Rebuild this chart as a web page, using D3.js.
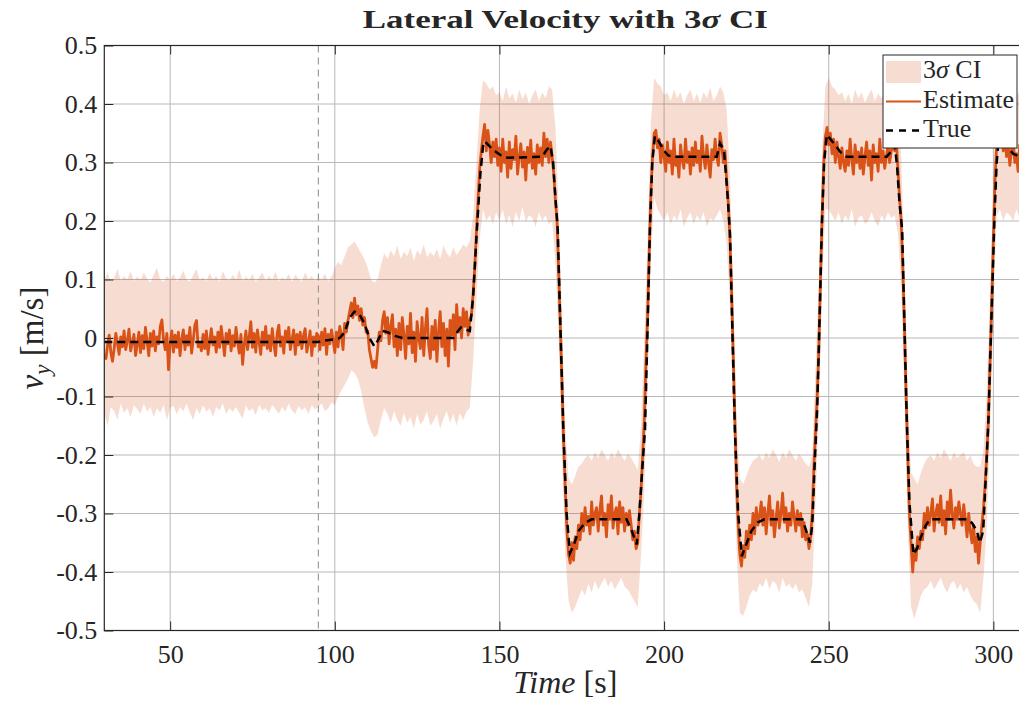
<!DOCTYPE html>
<html>
<head>
<meta charset="utf-8">
<script src="https://cdn.jsdelivr.net/npm/d3@7"></script>
<style>
  body { margin: 0; background: #fff; }
  text { font-family: "Liberation Serif", serif; fill: #262626; }
</style>
</head>
<body>
<script>
// ---- data ----
const xTicks = [50, 100, 150, 200, 250, 300];
const yTicks = [-0.5, -0.4, -0.3, -0.2, -0.1, 0, 0.1, 0.2, 0.3, 0.4, 0.5];
const eventTime = 95; // dashed vertical marker

// reference (true) lateral velocity, key points [s]
const trueTime = [30, 95, 96, 100, 101.5, 103, 104.5, 106, 107.5, 109, 110.5, 112, 113, 114.5, 116, 118, 120.5,
  136, 137.4, 138.3, 139.5, 141, 142, 143.1, 144.2, 145.1, 145.6, 147.5, 149, 150.5, 152.6,
  163, 164.4, 165.5, 166.3, 167, 167.7, 168.5, 169.4, 170.4, 171.4, 172.5, 174, 176, 178,
  188.6, 190.2, 191.7, 192.5, 193.3, 194.2, 195, 195.7, 196.4, 197.2, 198.5, 200, 201.3, 203,
  216, 217, 218.2, 219.2, 220, 220.8, 221.5, 222.5, 223.6, 224.8, 226.5, 228.5, 230.5,
  242, 243.2, 244.3, 245, 245.7, 246.5, 247.3, 247.9, 248.6, 249.4, 250.5, 252, 253.5, 255.4,
  267.6, 268.8, 270.1, 270.8, 271.5, 272.3, 273, 273.7, 274.5, 275.7, 276.8, 278, 279.5, 280.8,
  292, 293.5, 295, 295.9, 296.9, 297.6, 298.5, 299.5, 300.3, 301, 301.8, 303, 304.5, 306, 308, 310];
const trueVel = [-0.007, -0.007, -0.005, -0.002, 0, 0.01, 0.035, 0.045, 0.04, 0.025, 0, -0.014, -0.005, 0.012, 0.01, 0.004, 0,
  0, 0.012, 0.018, 0.015, 0.012, 0.07, 0.18, 0.28, 0.333, 0.336, 0.325, 0.318, 0.312, 0.308,
  0.31, 0.322, 0.328, 0.3, 0.24, 0.185, 0.02, -0.157, -0.3, -0.368, -0.355, -0.33, -0.316, -0.31,
  -0.31, -0.33, -0.353, -0.3, -0.23, -0.157, 0.02, 0.186, 0.3, 0.345, 0.335, 0.32, 0.312, 0.31,
  0.31, 0.333, 0.32, 0.25, 0.18, 0, -0.157, -0.3, -0.373, -0.355, -0.33, -0.315, -0.31,
  -0.31, -0.33, -0.35, -0.32, -0.22, -0.12, 0.05, 0.19, 0.3, 0.347, 0.34, 0.33, 0.318, 0.31,
  0.31, 0.318, 0.33, 0.29, 0.23, 0.185, 0.02, -0.14, -0.28, -0.37, -0.36, -0.34, -0.32, -0.31,
  -0.31, -0.316, -0.33, -0.35, -0.33, -0.25, -0.14, 0.05, 0.2, 0.3, 0.35, 0.34, 0.325, 0.315, 0.31, 0.31];

// estimate, one row per 10 s, sampled every 0.5 s
const estStart = 30, estStep = 0.5, rowSpan = 10;
const estimateRows = [
  [-0.03,-0.035,-0.012,0.005,-0.025,-0.04,-0.018,0.008,-0.01,-0.028,0.002,-0.015,0.012,-0.02,-0.005,0.015,-0.022,-0.008,0.006,-0.03],
  [-0.012,0.01,-0.025,0.004,-0.018,0.018,-0.006,-0.03,0.008,-0.014,0.012,-0.022,0.002,-0.01,0.02,0.031,-0.004,-0.02,0.008,-0.054],
  [-0.01,0.012,-0.024,0.005,-0.016,0.01,-0.03,-0.002,0.014,-0.02,0.004,-0.012,0.018,-0.026,-0.004,0.022,0.03,-0.015,-0.008,-0.022],
  [0.006,-0.018,0.012,-0.028,-0.006,0.016,-0.012,0.002,-0.024,0.01,-0.016,0.02,-0.004,-0.03,0.008,-0.01,0.014,-0.022,0.004,-0.014],
  [0.018,-0.008,-0.026,0.006,-0.045,-0.012,0.012,-0.02,0.002,0.028,-0.016,0.008,-0.024,0.014,-0.006,-0.028,0.01,-0.012,0.02,-0.018],
  [0.004,-0.022,0.016,-0.01,-0.03,0.008,0.022,-0.014,0.002,-0.026,0.012,-0.006,0.018,-0.02,-0.004,0.014,-0.028,0.006,-0.012,0.01],
  [-0.018,0.004,0.016,-0.024,-0.008,0.012,-0.03,0.002,-0.014,0.008,0.004,-0.02,0.01,-0.012,0.016,-0.028,0.006,-0.01,0.014,-0.004],
  [-0.025,0.01,-0.015,0.02,0.005,-0.02,0.025,0.01,0.03,0.045,0.06,0.035,0.068,0.04,0.055,0.03,0.05,0.022,0.035,0.01],
  [0.012,-0.02,-0.035,-0.05,-0.04,-0.051,-0.02,0.01,-0.005,0.03,0.045,0.008,0.035,-0.01,0.02,0.04,-0.015,0.015,-0.03,0.025],
  [-0.02,0.035,0.005,-0.035,0.02,-0.01,0.042,-0.025,0.01,-0.04,0.028,0.0,-0.018,0.035,-0.03,0.015,0.05,-0.012,-0.035,0.02],
  [-0.02,0.03,-0.04,0.01,0.045,-0.015,0.025,-0.03,0.015,-0.048,0.03,0.005,0.04,-0.02,0.057,0.01,0.035,0.0,0.05,0.02],
  [0.045,0.005,0.03,0.04,0.075,0.12,0.18,0.235,0.29,0.32,0.345,0.365,0.32,0.355,0.33,0.3,0.335,0.31,0.34,0.295],
  [0.325,0.285,0.34,0.3,0.318,0.275,0.335,0.29,0.322,0.305,0.345,0.28,0.31,0.332,0.292,0.318,0.27,0.326,0.3,0.338],
  [0.29,0.315,0.28,0.33,0.3,0.325,0.295,0.35,0.31,0.34,0.3,0.335,0.31,0.28,0.235,0.2,0.11,0.02,-0.08,-0.18],
  [-0.26,-0.33,-0.37,-0.385,-0.35,-0.38,-0.34,-0.36,-0.32,-0.345,-0.3,-0.33,-0.29,-0.32,-0.305,-0.335,-0.28,-0.32,-0.3,-0.29],
  [-0.33,-0.295,-0.27,-0.32,-0.3,-0.34,-0.285,-0.31,-0.27,-0.325,-0.3,-0.29,-0.335,-0.28,-0.315,-0.29,-0.33,-0.3,-0.32,-0.295],
  [-0.32,-0.345,-0.33,-0.36,-0.35,-0.3,-0.26,-0.2,-0.14,-0.04,0.04,0.15,0.25,0.31,0.35,0.355,0.325,0.34,0.3,0.33],
  [0.31,0.285,0.335,0.3,0.32,0.28,0.34,0.295,0.31,0.275,0.33,0.305,0.29,0.34,0.3,0.318,0.28,0.325,0.295,0.335],
  [0.3,0.32,0.285,0.345,0.31,0.29,0.33,0.3,0.275,0.322,0.305,0.34,0.31,0.295,0.35,0.33,0.3,0.32,0.27,0.23],
  [0.17,0.08,-0.03,-0.14,-0.25,-0.32,-0.37,-0.39,-0.355,-0.375,-0.33,-0.36,-0.32,-0.345,-0.3,-0.335,-0.29,-0.32,-0.305,-0.28],
  [-0.32,-0.29,-0.335,-0.3,-0.27,-0.32,-0.295,-0.34,-0.31,-0.28,-0.325,-0.3,-0.265,-0.315,-0.29,-0.33,-0.3,-0.32,-0.28,-0.305],
  [-0.33,-0.295,-0.32,-0.3,-0.34,-0.315,-0.345,-0.335,-0.36,-0.34,-0.3,-0.22,-0.16,-0.1,-0.02,0.1,0.21,0.3,0.345,0.36],
  [0.33,0.35,0.315,0.34,0.3,0.335,0.31,0.29,0.325,0.3,0.285,0.32,0.295,0.34,0.305,0.28,0.33,0.3,0.318,0.29],
  [0.325,0.28,0.31,0.335,0.295,0.32,0.27,0.33,0.3,0.315,0.285,0.34,0.3,0.32,0.29,0.31,0.33,0.3,0.32,0.335],
  [0.32,0.34,0.29,0.24,0.2,0.12,0.02,-0.1,-0.2,-0.3,-0.35,-0.4,-0.36,-0.38,-0.34,-0.36,-0.33,-0.345,-0.3,-0.325],
  [-0.29,-0.32,-0.3,-0.275,-0.33,-0.3,-0.285,-0.315,-0.27,-0.32,-0.295,-0.335,-0.28,-0.31,-0.26,-0.3,-0.325,-0.29,-0.31,-0.28],
  [-0.3,-0.32,-0.285,-0.31,-0.34,-0.3,-0.33,-0.35,-0.32,-0.365,-0.34,-0.385,-0.35,-0.32,-0.29,-0.25,-0.2,-0.14,-0.04,0.06],
  [0.17,0.27,0.33,0.36,0.34,0.355,0.32,0.345,0.31,0.33,0.295,0.32,0.34,0.3,0.315,0.285,0.33,0.3,0.32,0.29],
  [0.31]
];

// 3-sigma band edges, one row per 10 s, one value per second
const ciStart = 30, ciStep = 1;
const ciUpperRows = [
  [0.1,0.112,0.096,0.104,0.118,0.098,0.106,0.1,0.114,0.097],
  [0.105,0.099,0.112,0.101,0.095,0.108,0.12,0.1,0.096,0.106],
  [0.099,0.11,0.097,0.104,0.115,0.1,0.096,0.108,0.118,0.099],
  [0.104,0.097,0.111,0.1,0.106,0.096,0.114,0.102,0.098,0.108],
  [0.1,0.117,0.097,0.105,0.099,0.11,0.096,0.104,0.112,0.098],
  [0.106,0.1,0.113,0.097,0.104,0.099,0.11,0.096,0.108,0.101],
  [0.097,0.112,0.1,0.106,0.098,0.104,0.1,0.11,0.097,0.105],
  [0.12,0.13,0.125,0.14,0.155,0.16,0.165,0.155,0.145,0.135],
  [0.12,0.1,0.095,0.1,0.125,0.145,0.135,0.15,0.14,0.158],
  [0.135,0.148,0.14,0.155,0.132,0.15,0.142,0.16,0.138,0.147],
  [0.14,0.152,0.135,0.158,0.145,0.138,0.155,0.142,0.15,0.16],
  [0.155,0.165,0.21,0.3,0.39,0.44,0.435,0.425,0.43,0.415],
  [0.42,0.405,0.43,0.41,0.418,0.402,0.425,0.408,0.42,0.4],
  [0.415,0.425,0.405,0.42,0.41,0.43,0.425,0.36,0.22,0.03],
  [-0.15,-0.24,-0.25,-0.235,-0.22,-0.215,-0.205,-0.2,-0.21,-0.195],
  [-0.205,-0.19,-0.2,-0.21,-0.195,-0.205,-0.19,-0.2,-0.21,-0.198],
  [-0.205,-0.215,-0.225,-0.15,0.0,0.17,0.37,0.445,0.435,0.43],
  [0.415,0.42,0.405,0.425,0.41,0.42,0.4,0.415,0.425,0.405],
  [0.418,0.402,0.42,0.41,0.428,0.405,0.415,0.43,0.42,0.39],
  [0.28,0.08,-0.14,-0.24,-0.25,-0.235,-0.22,-0.21,-0.205,-0.2],
  [-0.21,-0.195,-0.205,-0.19,-0.2,-0.212,-0.195,-0.205,-0.19,-0.2],
  [-0.21,-0.198,-0.205,-0.215,-0.22,-0.2,-0.05,0.1,0.32,0.43],
  [0.445,0.43,0.425,0.415,0.42,0.405,0.418,0.4,0.425,0.41],
  [0.42,0.402,0.415,0.425,0.405,0.418,0.41,0.42,0.43,0.425],
  [0.43,0.41,0.31,0.13,-0.09,-0.23,-0.24,-0.25,-0.23,-0.215],
  [-0.205,-0.2,-0.21,-0.195,-0.205,-0.19,-0.2,-0.21,-0.195,-0.205],
  [-0.2,-0.195,-0.21,-0.2,-0.215,-0.22,-0.22,-0.19,-0.09,0.07],
  [0.28,0.42,0.44,0.43,0.425,0.415,0.42,0.41,0.425,0.415],
  [0.42]
];
const ciLowerRows = [
  [-0.13,-0.15,-0.118,-0.125,-0.14,-0.112,-0.128,-0.12,-0.135,-0.115],
  [-0.122,-0.13,-0.112,-0.126,-0.118,-0.135,-0.12,-0.128,-0.114,-0.14],
  [-0.12,-0.116,-0.13,-0.118,-0.125,-0.112,-0.128,-0.14,-0.12,-0.13],
  [-0.115,-0.126,-0.12,-0.135,-0.118,-0.124,-0.112,-0.13,-0.12,-0.126],
  [-0.118,-0.128,-0.138,-0.115,-0.125,-0.12,-0.132,-0.114,-0.124,-0.12],
  [-0.128,-0.115,-0.122,-0.13,-0.118,-0.126,-0.112,-0.124,-0.13,-0.116],
  [-0.124,-0.118,-0.13,-0.115,-0.122,-0.118,-0.112,-0.125,-0.12,-0.11],
  [-0.115,-0.1,-0.09,-0.08,-0.07,-0.055,-0.06,-0.07,-0.09,-0.12],
  [-0.145,-0.16,-0.17,-0.165,-0.14,-0.12,-0.13,-0.145,-0.125,-0.14],
  [-0.15,-0.128,-0.145,-0.135,-0.155,-0.13,-0.148,-0.14,-0.125,-0.15],
  [-0.142,-0.13,-0.155,-0.138,-0.125,-0.145,-0.13,-0.15,-0.128,-0.14],
  [-0.125,-0.12,-0.04,0.07,0.17,0.22,0.2,0.21,0.195,0.215],
  [0.2,0.22,0.195,0.21,0.19,0.215,0.2,0.225,0.198,0.21],
  [0.205,0.19,0.215,0.2,0.21,0.195,0.2,0.13,0.0,-0.2],
  [-0.37,-0.45,-0.47,-0.46,-0.445,-0.43,-0.44,-0.42,-0.435,-0.415],
  [-0.43,-0.42,-0.41,-0.425,-0.415,-0.43,-0.42,-0.41,-0.425,-0.43],
  [-0.44,-0.45,-0.46,-0.37,-0.26,-0.08,0.14,0.24,0.22,0.21],
  [0.2,0.215,0.195,0.21,0.2,0.22,0.19,0.205,0.215,0.195],
  [0.21,0.2,0.215,0.19,0.205,0.2,0.21,0.22,0.2,0.16],
  [0.06,-0.14,-0.36,-0.47,-0.475,-0.46,-0.44,-0.43,-0.435,-0.42],
  [-0.425,-0.41,-0.43,-0.415,-0.42,-0.435,-0.41,-0.425,-0.42,-0.43],
  [-0.42,-0.435,-0.43,-0.445,-0.46,-0.42,-0.28,-0.13,0.1,0.22],
  [0.22,0.21,0.2,0.215,0.195,0.21,0.2,0.22,0.19,0.205],
  [0.21,0.195,0.2,0.215,0.2,0.19,0.21,0.2,0.215,0.205],
  [0.21,0.18,0.09,-0.1,-0.32,-0.46,-0.48,-0.46,-0.44,-0.43],
  [-0.425,-0.415,-0.43,-0.42,-0.41,-0.425,-0.435,-0.42,-0.415,-0.43],
  [-0.42,-0.435,-0.425,-0.44,-0.45,-0.455,-0.47,-0.41,-0.32,-0.16],
  [0.05,0.21,0.22,0.2,0.215,0.21,0.2,0.22,0.205,0.21],
  [0.2]
];

// ---- layout ----
const W = 1019, H = 706;
const mLeft = 104.3, mRight = 1026.3, mTop = 45.5, mBottom = 630.5;
const orange = "#D95319";

const svg = d3.select("body").append("svg")
  .attr("width", W).attr("height", H);

const x = d3.scaleLinear().domain([30, 310]).range([mLeft, mRight]);
const y = d3.scaleLinear().domain([-0.5, 0.5]).range([mBottom, mTop]);

function flatten(rows, start, step) {
  const out = [];
  rows.forEach(function (row, r) {
    row.forEach(function (v, j) {
      out.push({ t: start + r * rowSpan + j * step, v: v });
    });
  });
  return out;
}
const estimate = flatten(estimateRows, estStart, estStep);
const upper = flatten(ciUpperRows, ciStart, ciStep);
const lower = flatten(ciLowerRows, ciStart, ciStep);
const band = upper.map(function (d, i) { return { t: d.t, hi: d.v, lo: lower[i].v }; });
const truth = trueTime.map(function (t, i) { return { t: t, v: trueVel[i] }; });

svg.append("defs").append("clipPath").attr("id", "clip")
  .append("rect").attr("x", mLeft).attr("y", mTop)
  .attr("width", mRight - mLeft).attr("height", mBottom - mTop);

// grid
const grid = svg.append("g").attr("stroke", "#b8b8b8").attr("stroke-width", 1);
grid.selectAll(".gx").data(xTicks).enter().append("line")
  .attr("x1", d => x(d)).attr("x2", d => x(d))
  .attr("y1", mTop).attr("y2", mBottom);
grid.selectAll(".gy").data(yTicks).enter().append("line")
  .attr("x1", mLeft).attr("x2", mRight)
  .attr("y1", d => y(d)).attr("y2", d => y(d));

const plot = svg.append("g").attr("clip-path", "url(#clip)");

// 3 sigma band
plot.append("path")
  .datum(band)
  .attr("fill", orange).attr("fill-opacity", 0.2)
  .attr("d", d3.area()
    .x(d => x(d.t))
    .y0(d => y(d.lo))
    .y1(d => y(d.hi)));

// event marker
plot.append("line")
  .attr("x1", x(eventTime)).attr("x2", x(eventTime))
  .attr("y1", mTop).attr("y2", mBottom)
  .attr("stroke", "#8a8a8a").attr("stroke-width", 1)
  .attr("stroke-dasharray", "7,5");

// estimate
plot.append("path")
  .datum(estimate)
  .attr("fill", "none").attr("stroke", orange).attr("stroke-width", 2.8)
  .attr("stroke-linejoin", "round")
  .attr("d", d3.line().x(d => x(d.t)).y(d => y(d.v)));

// truth
plot.append("path")
  .datum(truth)
  .attr("fill", "none").attr("stroke", "#000").attr("stroke-width", 2.5)
  .attr("stroke-dasharray", "8,5")
  .attr("d", d3.line().x(d => x(d.t)).y(d => y(d.v)));

// axes
const fmt = d => (d === 0 ? "0" : d3.format(".1f")(d).replace("\u2212", "-"));

const xAxis = svg.append("g")
  .attr("transform", "translate(0," + mBottom + ")")
  .call(d3.axisBottom(x).tickValues(xTicks).tickSize(-9).tickPadding(14));
const yAxis = svg.append("g")
  .attr("transform", "translate(" + mLeft + ",0)")
  .call(d3.axisLeft(y).tickValues(yTicks).tickFormat(fmt).tickSize(-9).tickPadding(7));
const xTop = svg.append("g")
  .attr("transform", "translate(0," + mTop + ")")
  .call(d3.axisTop(x).tickValues(xTicks).tickSize(-9).tickFormat(""));

[xAxis, yAxis, xTop].forEach(function (g) {
  g.select(".domain").remove();
  g.selectAll(".tick line").attr("stroke", "#262626");
  g.selectAll("text").attr("font-family", "Liberation Serif").attr("font-size", 26).attr("fill", "#262626");
});

svg.append("rect")
  .attr("x", mLeft).attr("y", mTop)
  .attr("width", mRight - mLeft).attr("height", mBottom - mTop)
  .attr("fill", "none").attr("stroke", "#262626").attr("stroke-width", 1.2);

// labels
svg.append("text")
  .attr("x", (mLeft + mRight) / 2).attr("y", 28)
  .attr("text-anchor", "middle")
  .attr("font-family", "DejaVu Serif").attr("font-weight", "bold").attr("font-size", 25)
  .attr("textLength", 405).attr("lengthAdjust", "spacingAndGlyphs")
  .call(function (t) {
    t.append("tspan").text("Lateral Velocity with 3");
    t.append("tspan").attr("font-style", "italic").text("\u03C3");
    t.append("tspan").text(" CI");
  });

const xl = svg.append("text")
  .attr("x", (mLeft + mRight) / 2).attr("y", 693)
  .attr("text-anchor", "middle").attr("font-size", 32);
xl.append("tspan").attr("font-style", "italic").text("Time");
xl.append("tspan").text(" [s]");

const yl = svg.append("text")
  .attr("transform", "translate(43," + ((mTop + mBottom) / 2) + ") rotate(-90)")
  .attr("text-anchor", "middle").attr("font-size", 33);
yl.append("tspan").attr("font-style", "italic").text("v");
yl.append("tspan").attr("font-style", "italic").attr("font-size", 23).attr("dy", 7).text("y");
yl.append("tspan").attr("dy", -7).text(" [m/s]");

// legend
const lg = svg.append("g").attr("transform", "translate(883,55)");
lg.append("rect").attr("width", 134).attr("height", 93)
  .attr("fill", "#fff").attr("stroke", "#262626").attr("stroke-width", 1);
lg.append("rect").attr("x", 3).attr("y", 6).attr("width", 35).attr("height", 22)
  .attr("fill", orange).attr("fill-opacity", 0.2);
lg.append("line").attr("x1", 3).attr("x2", 38).attr("y1", 46.5).attr("y2", 46.5)
  .attr("stroke", orange).attr("stroke-width", 2);
lg.append("line").attr("x1", 3).attr("x2", 38).attr("y1", 75.5).attr("y2", 75.5)
  .attr("stroke", "#000").attr("stroke-width", 2.5).attr("stroke-dasharray", "7,6");
const lt1 = lg.append("text").attr("x", 40).attr("y", 23).attr("font-size", 26);
lt1.append("tspan").text("3");
lt1.append("tspan").attr("font-style", "italic").text("\u03C3");
lt1.append("tspan").text(" CI");
lg.append("text").attr("x", 40).attr("y", 53).attr("font-size", 26).text("Estimate");
lg.append("text").attr("x", 40).attr("y", 82).attr("font-size", 26).text("True");
</script>
</body>
</html>
